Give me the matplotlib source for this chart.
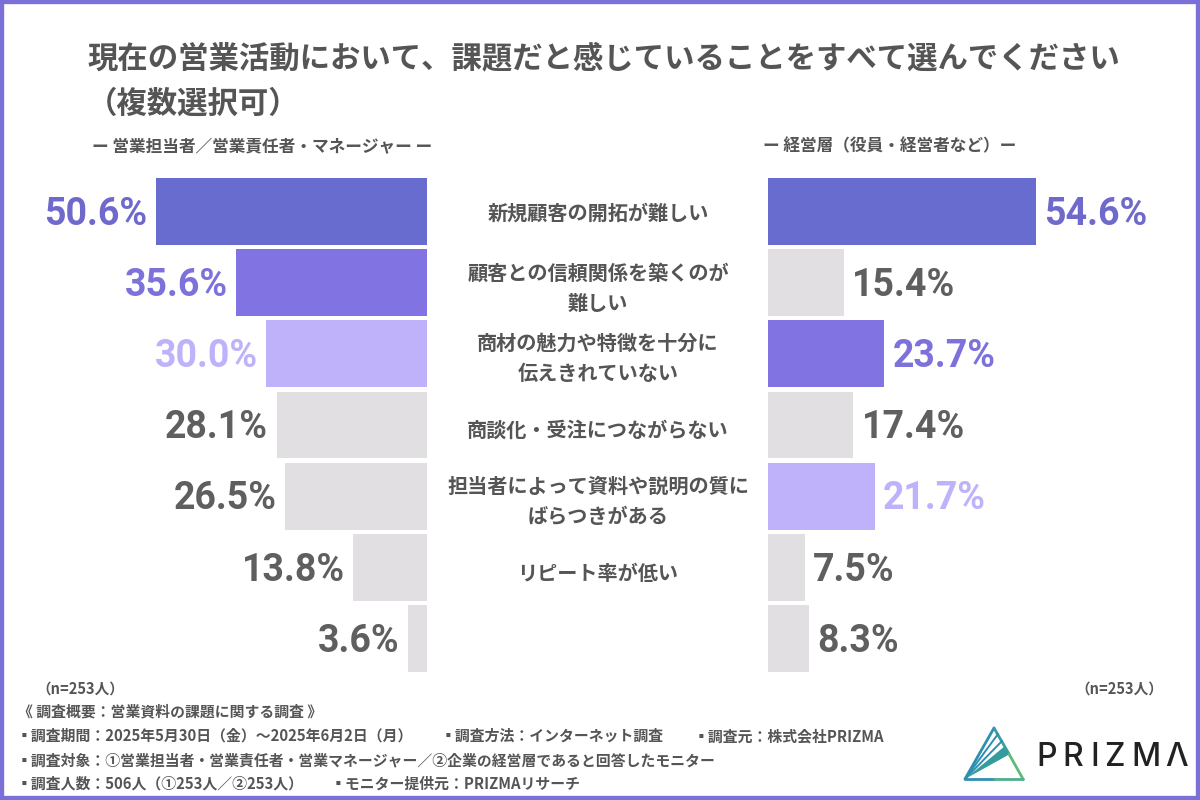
"""Sales activity issues: mirrored bars, sales staff vs executives"""

import matplotlib.pyplot as plt
from matplotlib.patches import Rectangle

plt.rcParams['font.family'] = ['Noto Sans CJK JP', 'DejaVu Sans']

categories = [
    '新規顧客の開拓が難しい',
    '顧客との信頼関係を築くのが\n難しい',
    '商材の魅力や特徴を十分に\n伝えきれていない',
    '商談化・受注につながらない',
    '担当者によって資料や説明の質に\nばらつきがある',
    'リピート率が低い',
    '',
]
sales_values = [50.6, 35.6, 30.0, 28.1, 26.5, 13.8, 3.6]
exec_values = [54.6, 15.4, 23.7, 17.4, 21.7, 7.5, 8.3]

sales_colors = ['#696CCF', '#8174E2', '#BFB2FB', '#E2DFE2', '#E2DFE2', '#E2DFE2', '#E2DFE2']
exec_colors = ['#696CCF', '#E2DFE2', '#8174E2', '#E2DFE2', '#BFB2FB', '#E2DFE2', '#E2DFE2']
sales_text = ['#6F69CC', '#7D72DC', '#BFB2FB', '#5F5F5F', '#5F5F5F', '#5F5F5F', '#5F5F5F']
exec_text = ['#6F69CC', '#5F5F5F', '#7D72DC', '#5F5F5F', '#BFB2FB', '#5F5F5F', '#5F5F5F']

title_lines = ['現在の営業活動において、課題だと感じていることをすべて選んでください', '（複数選択可）']
left_header = 'ー 営業担当者／営業責任者・マネージャー ー'
right_header = 'ー 経営層（役員・経営者など）ー'
sample_label = '（n=253人）'

notes = [
    (18, 711, '《 調査概要：営業資料の課題に関する調査 》'),
    (17, 736, '▪調査期間：2025年5月30日（金）～2025年6月2日（月）'),
    (441, 736, '▪調査方法：インターネット調査'),
    (694, 736, '▪調査元：株式会社PRIZMA'),
    (17, 760, '▪調査対象：①営業担当者・営業責任者・営業マネージャー／②企業の経営層であると回答したモニター'),
    (17, 784, '▪調査人数：506人（①253人／②253人）'),
    (331, 784, '▪モニター提供元：PRIZMAリサーチ'),
]

W, H = 1200, 800
TEXT = '#555555'
NUM_FONT = ['Roboto', 'DejaVu Sans']

fig = plt.figure(figsize=(12, 8), dpi=100, facecolor='white')


def px_axes(x0, y0, x1, y1):
    """Axes placed by pixel box (top-left origin)"""
    ax = fig.add_axes([x0 / W, 1 - y1 / H, (x1 - x0) / W, (y1 - y0) / H])
    ax.axis('off')
    return ax


def px_text(x, y, s, **kw):
    kw.setdefault('va', 'center')
    kw.setdefault('color', TEXT)
    kw.setdefault('fontweight', 'bold')
    fig.text(x / W, 1 - y / H, s, **kw)


rows = list(range(len(categories)))

# Left bars grow leftwards from x=427
ax_l = px_axes(156, 176, 427, 674)
ax_l.barh(rows, sales_values, height=0.94, color=sales_colors)
ax_l.set_xlim(max(sales_values), 0)
ax_l.set_ylim(len(rows) - 0.5, -0.5)
for r, v, c in zip(rows, sales_values, sales_text):
    ax_l.annotate(f'{v:.1f}%', (v, r), xytext=(-6, -2), textcoords='offset points',
                  ha='right', va='center', color=c, fontsize=27, fontweight='bold',
                  family=NUM_FONT, annotation_clip=False)

# Right bars
ax_r = px_axes(768, 176, 1036, 674)
ax_r.barh(rows, exec_values, height=0.94, color=exec_colors)
ax_r.set_xlim(0, max(exec_values))
ax_r.set_ylim(len(rows) - 0.5, -0.5)
for r, v, c in zip(rows, exec_values, exec_text):
    ax_r.annotate(f'{v:.1f}%', (v, r), xytext=(6, -2), textcoords='offset points',
                  ha='left', va='center', color=c, fontsize=27, fontweight='bold',
                  family=NUM_FONT, annotation_clip=False)

# Category labels between the two sets of bars
label_y = [213, 288, 358, 430, 501, 573, 644]
for y, label in zip(label_y, categories):
    px_text(598, y, label, ha='center', fontsize=14.5, linespacing=1.55)

# Title and headers
px_text(87, 58, title_lines[0], fontsize=21.9)
px_text(87, 104, title_lines[1], fontsize=21.9)
px_text(262, 146, left_header, ha='center', fontsize=12)
px_text(890, 146, right_header, ha='center', fontsize=12)
px_text(80, 689, sample_label, ha='center', fontsize=10.5)
px_text(1119, 689, sample_label, ha='center', fontsize=10.5)

for x, y, s in notes:
    px_text(x, y, s, fontsize=10.7)

# Logo: triangle outline with rays fanning out from the lower-left corner
logo = px_axes(960, 720, 1030, 785)
logo.set_xlim(960, 1030)
logo.set_ylim(785, 720)
logo.plot([965, 994], [779, 728], color='#2F8FB0', lw=2, solid_capstyle='round')
logo.plot([994, 1009], [728, 754], color='#3A9BA0', lw=2, solid_capstyle='round')
logo.plot([1009, 1023], [754, 779], color='#5DBB7A', lw=2, solid_capstyle='round')
logo.plot([965, 994], [779, 779], color='#2F8FB0', lw=2, solid_capstyle='round')
logo.plot([994, 1023], [779, 779], color='#4FB08A', lw=2, solid_capstyle='round')
logo.plot([965, 998], [779, 734], color='#2F8FB0', lw=1.4)
logo.plot([965, 1002], [779, 741], color='#2F8FB0', lw=1.4)
logo.fill([965, 1005, 1010], [779, 746, 754], color='#349C9C', lw=0)
for x, ch in zip([1036, 1062, 1090, 1104, 1131, 1165], 'PRIZMΛ'):
    px_text(x, 757, ch, ha='left', fontsize=23, color='#222222', fontweight='medium',
            family=['Inter', 'DejaVu Sans'])

# Purple frame around the whole picture
fig.add_artist(Rectangle((0, 0), 1, 1, transform=fig.transFigure, fill=False,
                         edgecolor='#7B6FD8', lw=6))

fig.savefig('out.png', dpi=100)
